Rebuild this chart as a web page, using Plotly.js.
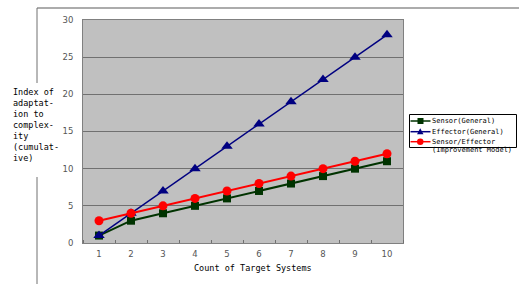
<!DOCTYPE html>
<html><head><meta charset="utf-8">
<script src="https://cdn.plot.ly/plotly-3.0.1.min.js"></script>
<style>html,body{margin:0;padding:0;background:#fff;}#chart{width:519px;height:284px;}</style>
</head><body><div id="chart"></div>
<script>
const categories = [1,2,3,4,5,6,7,8,9,10];
const sensorGeneral = [1,3,4,5,6,7,8,9,10,11];
const effectorGeneral = [1,4,7,10,13,16,19,22,25,28];
const improvementModel = [3,4,5,6,7,8,9,10,11,12];
const seriesNames = ['Sensor(General)','Effector(General)','Sensor/Effector (Improvement Model)'];
const legendLines = [['Sensor(General)'],['Effector(General)'],['Sensor/Effector','(Improvement Model)']];
const yTicks = [0,5,10,15,20,25,30];
const xTitle = 'Count of Target Systems';
const yTitle = 'Index of<br>adaptat-<br>ion to<br>complex-<br>ity<br>(cumulat-<br>ive)';

const W=519,H=284,L=83,R=403,T=20,B=243;
const px = x => (x-L)/(R-L);
const py = y => (B-y)/(B-T);
const mono = 'DejaVu Sans Mono, monospace';
const colors = ['#003300','#000080','#ff0000'];

const traces = [
 {x:categories,y:sensorGeneral,name:seriesNames[0],mode:'lines+markers',
  line:{color:colors[0],width:2},marker:{symbol:'square',size:8,color:colors[0]}},
 {x:categories,y:effectorGeneral,name:seriesNames[1],mode:'lines+markers',
  line:{color:colors[1],width:1.5},marker:{symbol:'triangle-up',size:10,color:colors[1]}},
 {x:categories,y:improvementModel,name:seriesNames[2],mode:'lines+markers',
  line:{color:colors[2],width:2},marker:{symbol:'circle',size:9,color:colors[2]}}
];

// legend (drawn as decoration, outside the plot area)
const shapes = [
  {type:'line',xref:'paper',yref:'paper',x0:px(37),x1:px(519),y0:py(8),y1:py(8),line:{color:'#909090',width:1.5}},
  {type:'line',xref:'paper',yref:'paper',x0:px(37),x1:px(37),y0:py(8),y1:py(83),line:{color:'#707070',width:1}},
  {type:'line',xref:'paper',yref:'paper',x0:px(37),x1:px(37),y0:py(177),y1:py(284),line:{color:'#707070',width:1}},
  {type:'rect',xref:'paper',yref:'paper',x0:px(409.5),x1:px(516.5),y0:py(114.5),y1:py(147.5),line:{color:'#000',width:1},fillcolor:'rgba(0,0,0,0)'}
];
const annotations = [
  {text:xTitle,xref:'paper',yref:'paper',x:px(253),y:py(268),xanchor:'center',yanchor:'middle',showarrow:false,
   font:{family:mono,size:8.5,color:'#000'}},
  {text:yTitle,xref:'paper',yref:'paper',x:px(11),y:py(85),xanchor:'left',yanchor:'top',align:'left',showarrow:false,
   font:{family:mono,size:8.5,color:'#000'}}
];
const rowY = [121,131.7,141.7];
legendLines.forEach((lines,i)=>{
  const y=rowY[i], c=colors[i];
  shapes.push({type:'line',xref:'paper',yref:'paper',x0:px(410.5),x1:px(430.5),y0:py(y),y1:py(y),line:{color:c,width:1.5}});
  if(i===0) shapes.push({type:'rect',xref:'paper',yref:'paper',x0:px(417.5),x1:px(423.5),y0:py(y-3),y1:py(y+3),line:{width:0},fillcolor:c});
  if(i===1) shapes.push({type:'path',xref:'paper',yref:'paper',path:`M ${px(417)} ${py(y+2.5)} L ${px(423.5)} ${py(y+2.5)} L ${px(420.2)} ${py(y-3.5)} Z`,line:{width:0},fillcolor:c});
  if(i===2) shapes.push({type:'circle',xref:'paper',yref:'paper',x0:px(417),x1:px(423.5),y0:py(y-3.2),y1:py(y+3.2),line:{width:0},fillcolor:c});
  lines.forEach((t,j)=>{
    annotations.push({text:t,xref:'paper',yref:'paper',x:px(431),y:py(y+j*8.4),xanchor:'left',yanchor:'middle',showarrow:false,
      font:{family:mono,size:7,color:'#000'},borderpad:0});
  });
});

const layout = {
 width:W,height:H,margin:{l:L,r:W-R,t:T,b:H-B,autoexpand:false},
 paper_bgcolor:'#fff',plot_bgcolor:'#c0c0c0',
 showlegend:false,
 xaxis:{range:[0.5,10.5],tickvals:categories,ticks:'',showgrid:false,zeroline:false,
   showline:true,linecolor:'#808080',linewidth:1,mirror:true,ticklabelstandoff:3,
   tickfont:{family:'DejaVu Sans, sans-serif',size:8.5,color:'#555'},
   minor:{tick0:0.5,dtick:1,ticks:'inside',ticklen:3,tickcolor:'#707070',showgrid:false}},
 yaxis:{range:[0,30],tickvals:yTicks,ticks:'',showgrid:true,gridcolor:'#707070',gridwidth:1,zeroline:false,
   showline:true,linecolor:'#808080',linewidth:1,mirror:true,ticklabelstandoff:7,
   tickfont:{family:'DejaVu Sans, sans-serif',size:8.5,color:'#555'}},
 annotations:annotations,
 shapes:shapes
};
Plotly.newPlot('chart',traces,layout,{displayModeBar:false,staticPlot:true});
</script></body></html>
